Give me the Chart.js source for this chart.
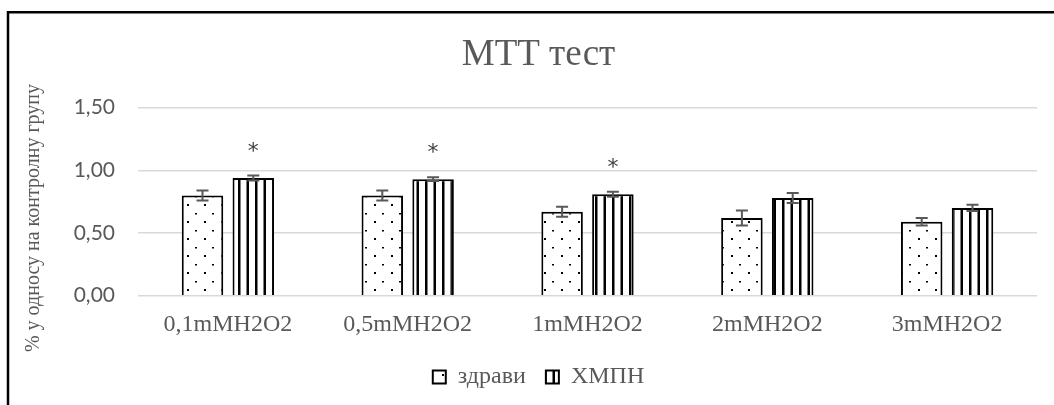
<!DOCTYPE html>
<html>
<head>
<meta charset="utf-8">
<script src="https://cdn.jsdelivr.net/npm/chart.js@4/dist/chart.umd.min.js"></script>
<style>
  html, body { margin: 0; padding: 0; background: #ffffff; }
  #wrap { width: 1054px; height: 405px; }
</style>
</head>
<body>
<div id="wrap"><canvas id="c" width="1054" height="405"></canvas></div>
<script>
// MTT assay, relative to the control group
const categories = ['0,1mMH2O2', '0,5mMH2O2', '1mMH2O2', '2mMH2O2', '3mMH2O2'];
const seriesNames = ['здрави', 'ХМПН'];
const zdravi = [0.80, 0.80, 0.67, 0.62, 0.59];
const zdraviErr = [0.04, 0.04, 0.04, 0.06, 0.03];
const hmpn = [0.94, 0.93, 0.81, 0.78, 0.70];
const hmpnErr = [0.02, 0.015, 0.02, 0.04, 0.025];
const significance = ['*', '*', '*', '', ''];
const yTickLabels = ['0,00', '0,50', '1,00', '1,50'];
const chartTitle = 'MTT тест';
const yAxisTitle = '% у односу на контролну групу';

const GRAY = '#595959';
const SERIF = "'Liberation Serif', 'Times New Roman', serif";

function makeTile(w, h, paint) {
  const t = document.createElement('canvas');
  t.width = w; t.height = h;
  const g = t.getContext('2d');
  g.fillStyle = '#ffffff';
  g.fillRect(0, 0, w, h);
  g.fillStyle = '#000000';
  paint(g);
  return document.getElementById('c').getContext('2d').createPattern(t, 'repeat');
}

// dotted fill
const dotFill = makeTile(17, 17, g => {
  g.fillRect(0, 0, 2, 2);
  g.fillRect(8, 9, 2, 1.5);
});
// vertical stripes
const stripeFill = makeTile(17, 4, g => {
  g.fillRect(0, 0, 2.5, 4);
  g.fillRect(8.5, 0, 2.5, 4);
});

const frame = {
  id: 'frame',
  beforeDraw(chart) {
    const ctx = chart.ctx;
    ctx.save();
    ctx.strokeStyle = '#000000';
    ctx.lineWidth = 2.5;
    ctx.beginPath();
    ctx.moveTo(8, 420);
    ctx.lineTo(8, 12.2);
    ctx.lineTo(1070, 12.2);
    ctx.stroke();
    ctx.restore();
  }
};

const sideTitle = {
  id: 'sideTitle',
  afterDraw(chart) {
    const ctx = chart.ctx;
    ctx.save();
    ctx.translate(34, 218);
    ctx.rotate(-Math.PI / 2);
    ctx.font = '20px ' + SERIF;
    ctx.fillStyle = GRAY;
    ctx.textAlign = 'center';
    ctx.textBaseline = 'middle';
    ctx.fillText(yAxisTitle, 0, 0);
    ctx.restore();
  }
};

const errorBars = {
  id: 'errorBars',
  afterDatasetsDraw(chart) {
    const ctx = chart.ctx;
    const y = chart.scales.y;
    const errs = [zdraviErr, hmpnErr];
    ctx.save();
    ctx.strokeStyle = GRAY;
    ctx.lineWidth = 2;
    chart.data.datasets.forEach((ds, di) => {
      const meta = chart.getDatasetMeta(di);
      meta.data.forEach((bar, i) => {
        const v = ds.data[i], e = errs[di][i];
        const top = y.getPixelForValue(v + e);
        const bot = y.getPixelForValue(v - e);
        const x = bar.x;
        ctx.beginPath();
        ctx.moveTo(x, top); ctx.lineTo(x, bot);
        ctx.moveTo(x - 6, top); ctx.lineTo(x + 6, top);
        ctx.moveTo(x - 6, bot); ctx.lineTo(x + 6, bot);
        ctx.stroke();
      });
    });
    // significance marks above the ХМПН bars
    const meta = chart.getDatasetMeta(1);
    ctx.fillStyle = '#404040';
    ctx.font = "22px 'DejaVu Sans', sans-serif";
    ctx.textAlign = 'center';
    ctx.textBaseline = 'middle';
    significance.forEach((s, i) => {
      if (!s) return;
      const bar = meta.data[i];
      ctx.fillText(s, bar.x, y.getPixelForValue(hmpn[i]) - 26);
    });
    ctx.restore();
  }
};

new Chart(document.getElementById('c'), {
  type: 'bar',
  data: {
    labels: categories,
    datasets: [
      {
        label: seriesNames[0],
        data: zdravi,
        backgroundColor: dotFill,
        borderColor: '#000000',
        borderWidth: 2,
        categoryPercentage: 0.565,
        barPercentage: 0.817
      },
      {
        label: seriesNames[1],
        data: hmpn,
        backgroundColor: stripeFill,
        borderColor: '#000000',
        borderWidth: 2,
        categoryPercentage: 0.565,
        barPercentage: 0.817
      }
    ]
  },
  options: {
    responsive: false,
    animation: false,
    devicePixelRatio: 1,
    layout: { padding: { left: 40, right: 17, top: 0, bottom: 6 } },
    plugins: {
      title: {
        display: true,
        text: chartTitle,
        color: GRAY,
        font: { family: SERIF, size: 37, weight: 'normal', lineHeight: 1.2 },
        padding: { top: 32.8, bottom: 30.5 }
      },
      legend: {
        position: 'bottom',
        labels: {
          color: GRAY,
          font: { family: SERIF, size: 24 },
          boxWidth: 13,
          boxHeight: 13,
          padding: 20
        }
      },
      tooltip: { enabled: false }
    },
    scales: {
      x: {
        grid: { display: false, drawTicks: false },
        border: { display: false },
        ticks: {
          color: GRAY,
          font: { family: SERIF, size: 24 },
          padding: 15,
          maxRotation: 0
        },
        afterFit(s) { s.height = 49.3; }
      },
      y: {
        min: 0,
        max: 1.5,
        grid: { color: '#d9d9d9', lineWidth: 1.5, drawTicks: false },
        border: { display: false },
        ticks: {
          stepSize: 0.5,
          color: GRAY,
          font: { family: "Lato, 'Open Sans', sans-serif", size: 21 },
          padding: 23,
          callback: (v, i) => yTickLabels[i]
        },
        afterFit(s) { s.width = 98; }
      }
    }
  },
  plugins: [frame, sideTitle, errorBars]
});
</script>
</body>
</html>
